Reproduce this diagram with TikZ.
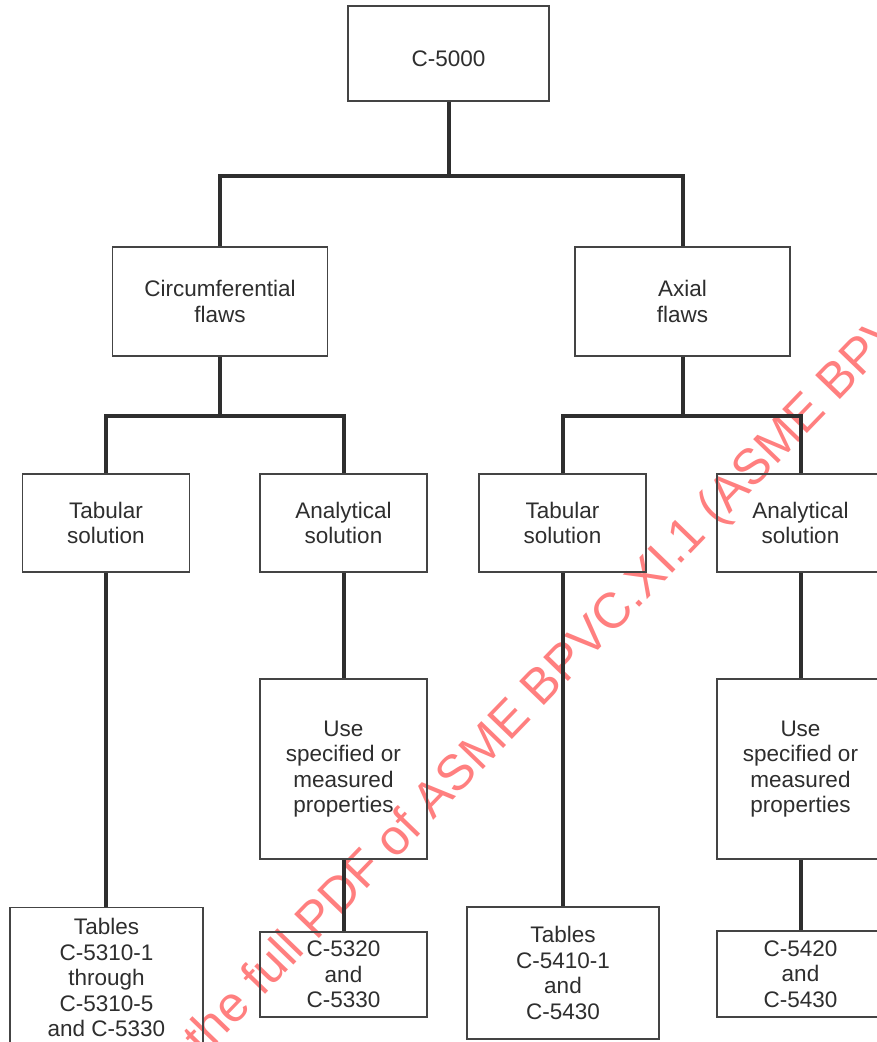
\documentclass[tikz,border=0pt]{standalone}
\usepackage{fontspec}
\setmainfont{Liberation Sans}
\newfontfamily\markfont{Liberation Sans}
\definecolor{ink}{HTML}{2E2E2E}
\definecolor{frame}{HTML}{444444}
\definecolor{stamp}{HTML}{FF3B3B}
\tikzset{
  box/.style={draw=frame, line width=1.4pt, rectangle, inner sep=0pt,
    align=center, text=ink, font=\fontsize{22.5}{25.5}\selectfont},
  conn/.style={draw=ink, line width=4pt, line join=miter, line cap=butt},
}
\begin{document}
\begin{tikzpicture}[x=1pt, y=-1pt]
\useasboundingbox (0,0) rectangle (877,1042);
\clip (0,0) rectangle (877,1042);
\fill[white] (0,0) rectangle (877,1042);

% watermark, under the chart
\node[anchor=base west, rotate=46, text=stamp, opacity=0.65, inner sep=0pt,
  font=\markfont\fontsize{50}{50}\selectfont] (stampline) at (204,1058)
  {the full PDF of ASME BPVC.XI.1 (ASME BPV};

% boxes
\node[box, minimum width=201, minimum height=95, text height=25pt, text depth=0pt] (top) at (448.5,53.5) {C-5000};
\node[box, minimum width=215, minimum height=109] (circ) at (220,301.5) {Circumferential\\flaws};
\node[box, minimum width=215, minimum height=109] (axial) at (682.5,301.5) {Axial\\flaws};

\node[box, minimum width=167, minimum height=98] (tabL) at (106,523) {Tabular\\solution};
\node[box, minimum width=167, minimum height=98] (anaL) at (343.5,523) {Analytical\\solution};
\node[box, minimum width=167, minimum height=98] (tabR) at (562.5,523) {Tabular\\solution};
\node[box, minimum width=167, minimum height=98] (anaR) at (800.5,523) {Analytical\\solution};

\node[box, minimum width=167, minimum height=180] (useL) at (343.5,769) {Use\\specified or\\measured\\properties};
\node[box, minimum width=167, minimum height=180] (useR) at (800.5,769) {Use\\specified or\\measured\\properties};

\node[box, minimum width=193, minimum height=140] (tablesL) at (106.5,977.5) {Tables\\C-5310-1\\through\\C-5310-5\\and C-5330};
\node[box, minimum width=167, minimum height=85] (secL) at (343.5,974.5) {C-5320\\and\\C-5330};
\node[box, minimum width=192, minimum height=132] (tablesR) at (563,973) {Tables\\C-5410-1\\and\\C-5430};
\node[box, minimum width=167, minimum height=86] (secR) at (800.5,974) {C-5420\\and\\C-5430};

% junction points of the branches
\coordinate (j0) at (448.5,176);
\coordinate (j1) at (220,416);
\coordinate (j2) at (682.5,416);

% connectors
\draw[conn] (top.south) -- (j0);
\draw[conn] (circ.north) |- (j0) -| (axial.north);

\draw[conn] (circ.south) -- (j1);
\draw[conn] (tabL.north) |- (j1) -| (anaL.north);
\draw[conn] (axial.south) -- (j2);
\draw[conn] (tabR.north) |- (j2) -| (anaR.north);

\draw[conn] (tabL.south) -- (tabL.south |- tablesL.north);
\draw[conn] (anaL.south) -- (useL.north);
\draw[conn] (useL.south) -- (secL.north);
\draw[conn] (tabR.south) -- (tabR.south |- tablesR.north);
\draw[conn] (anaR.south) -- (useR.north);
\draw[conn] (useR.south) -- (secR.north);
\end{tikzpicture}
\end{document}
